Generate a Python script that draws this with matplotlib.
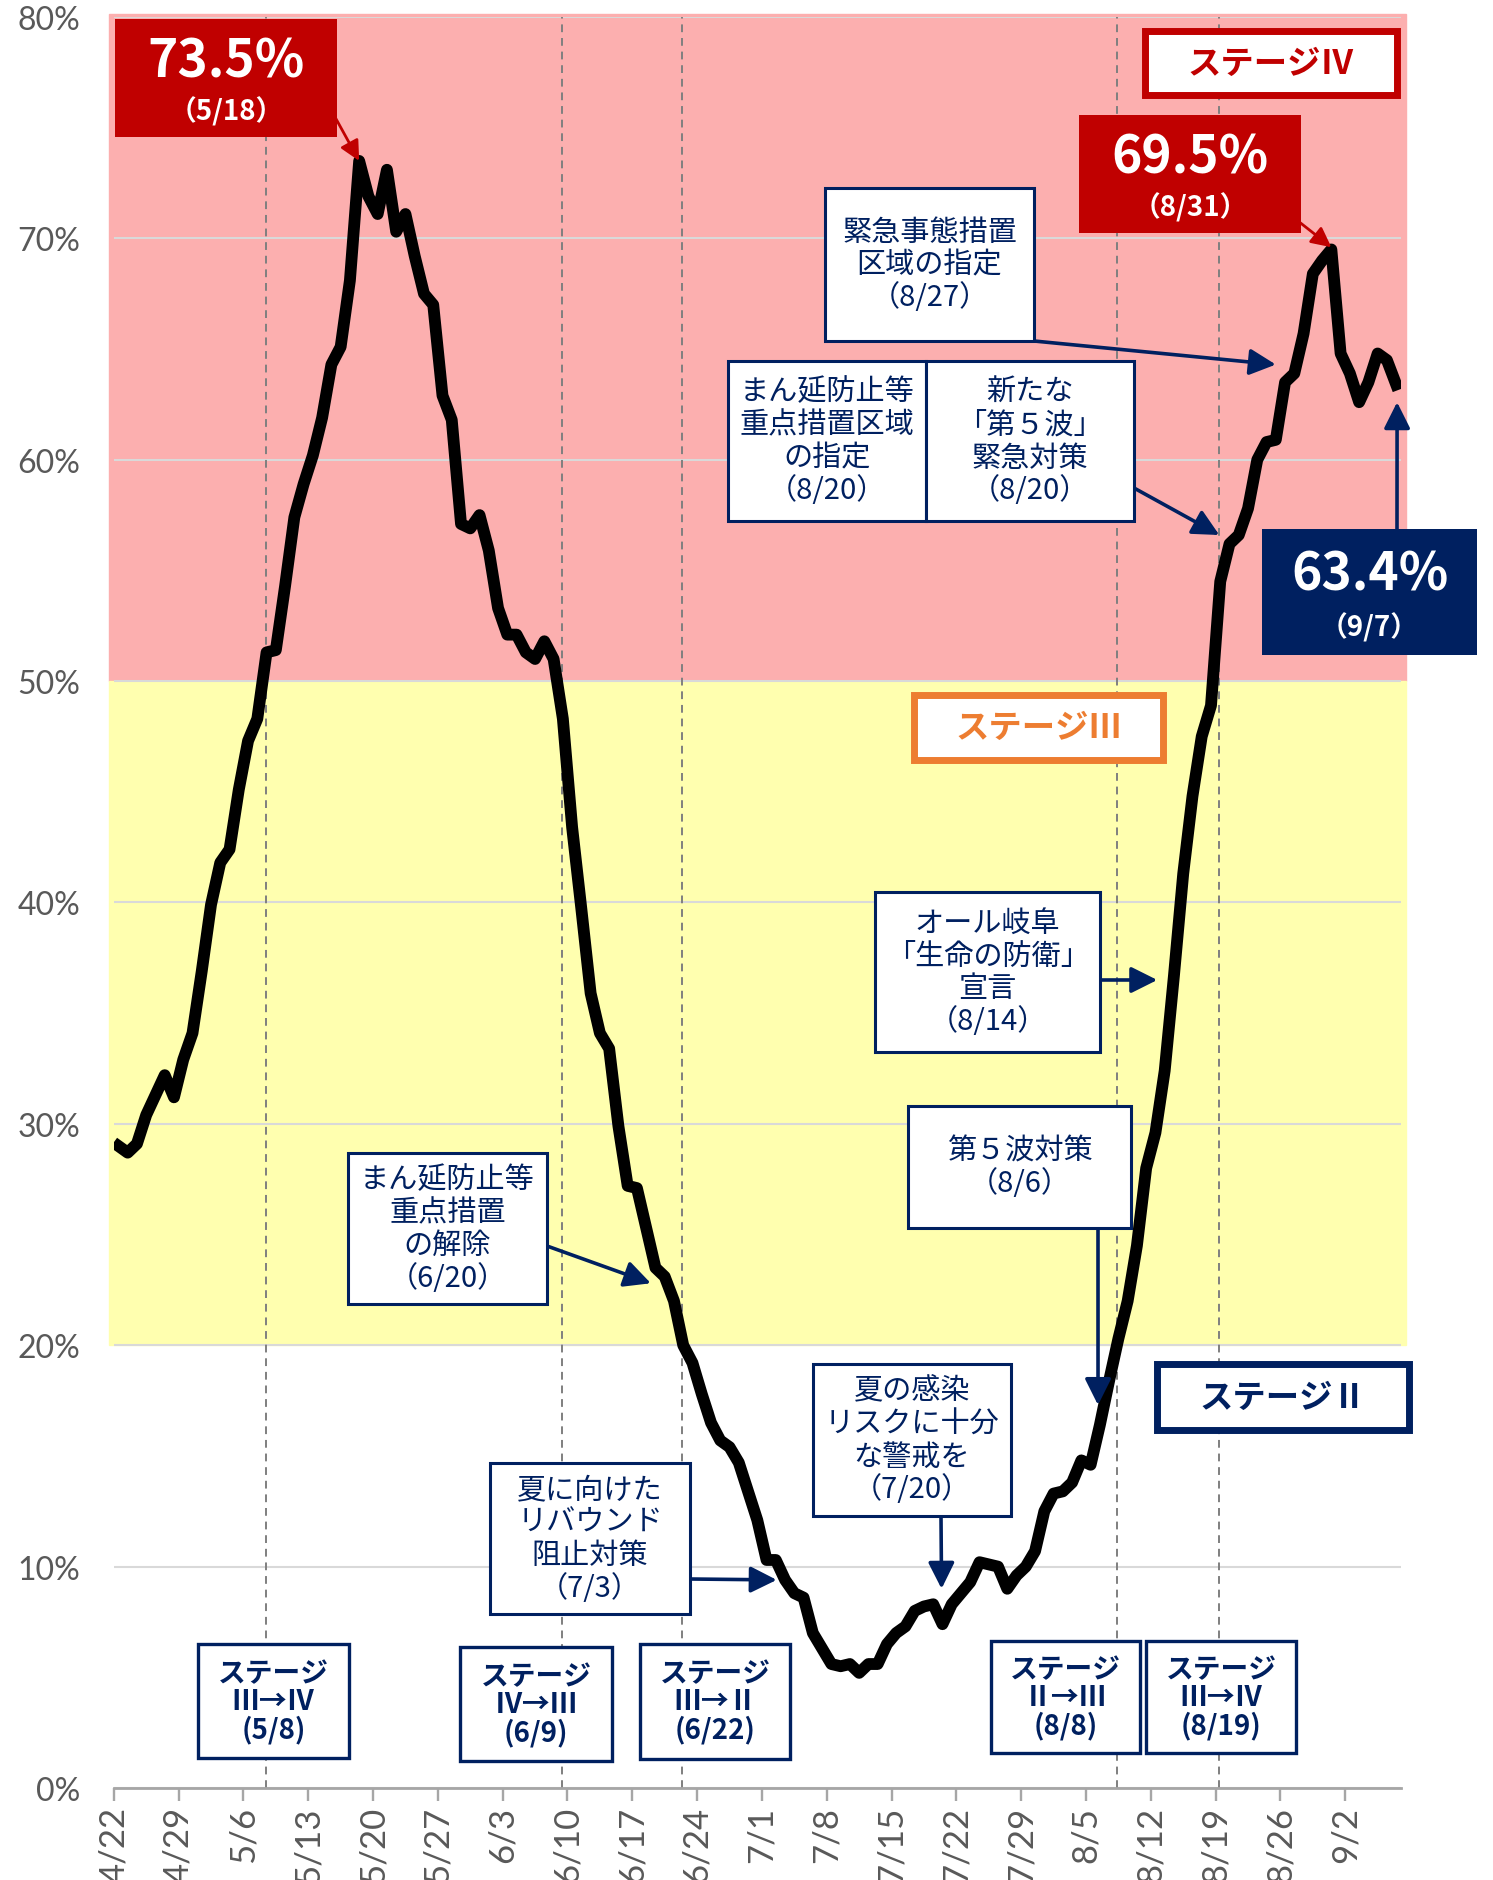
import matplotlib.pyplot as plt
import numpy as np
import pandas as pd
from matplotlib.patches import Rectangle

plt.rcParams['font.family'] = ['Noto Sans CJK JP', 'DejaVu Sans']

# daily bed occupancy rate (%), 4/22 - 9/7
dates = pd.date_range('2021-04-22', '2021-09-07', freq='D')
occupancy = [
    29.0, 28.7, 29.1, 30.4, 31.3, 32.2, 31.2, 32.9, 34.1, 36.9,
    39.9, 41.8, 42.4, 45.1, 47.3, 48.3, 51.3, 51.4, 54.3, 57.4,
    58.9, 60.2, 61.9, 64.3, 65.1, 68.1, 73.5, 71.9, 71.1, 73.1,
    70.3, 71.1, 69.2, 67.5, 67.0, 62.9, 61.8, 57.1, 56.9, 57.5,
    55.9, 53.3, 52.1, 52.1, 51.3, 51.0, 51.8, 51.0, 48.3, 43.4,
    39.7, 35.9, 34.1, 33.4, 29.9, 27.2, 27.1, 25.3, 23.5, 23.1,
    22.0, 20.0, 19.2, 17.8, 16.5, 15.7, 15.4, 14.7, 13.4, 12.1,
    10.3, 10.3, 9.4, 8.8, 8.6, 7.0, 6.3, 5.6, 5.5, 5.6,
    5.2, 5.6, 5.6, 6.5, 7.0, 7.3, 8.0, 8.2, 8.3, 7.4,
    8.3, 8.8, 9.3, 10.2, 10.1, 10.0, 9.0, 9.6, 10.0, 10.7,
    12.5, 13.3, 13.4, 13.8, 14.8, 14.6, 16.4, 18.4, 20.3, 22.0,
    24.5, 28.0, 29.6, 32.4, 36.7, 41.3, 44.8, 47.5, 48.9, 54.5,
    56.2, 56.6, 57.8, 60.0, 60.8, 60.9, 63.5, 63.9, 65.7, 68.4,
    69.0, 69.5, 64.8, 63.9, 62.6, 63.5, 64.8, 64.5, 63.4,
]
tick_labels = [f'{d.month}/{d.day}' for d in dates[::7]]
stage_change_dates = ['2021-05-08', '2021-06-09', '2021-06-22', '2021-08-08', '2021-08-19']
stage_change_text = ['ステージ\nⅢ→Ⅳ\n(5/8)', 'ステージ\nⅣ→Ⅲ\n(6/9)', 'ステージ\nⅢ→Ⅱ\n(6/22)',
                     'ステージ\nⅡ→Ⅲ\n(8/8)', 'ステージ\nⅢ→Ⅳ\n(8/19)']

NAVY = '#002060'
RED = '#C00000'
ORANGE = '#ED7D31'
W, H = 1493, 1881

fig = plt.figure(figsize=(W / 100, H / 100), dpi=100)
ax = fig.add_axes([113.8 / W, 1 - 1789 / H, 1287 / W, 1771 / H])

x = np.arange(len(dates)) + 0.5

# stage bands
ax.axhspan(50, 80.15, xmin=-0.004, xmax=1.004, color='#FCAFAF', zorder=0.2).set_clip_on(False)
ax.axhspan(20, 50, xmin=-0.004, xmax=1.004, color='#FFFFAF', zorder=0.2).set_clip_on(False)

for d in stage_change_dates:
    pos = (pd.Timestamp(d) - dates[0]).days + 0.4
    ax.axvline(pos, color='#7F7F7F', ls=(0, (4, 3)), lw=1.4, zorder=1)

ax.plot(x, occupancy, color='black', lw=8.5, solid_joinstyle='round', zorder=3)

ax.set_xlim(0, 139)
ax.set_ylim(0, 80)
ax.set_yticks(np.arange(0, 81, 10))
ax.set_yticklabels([f'{v}%' for v in range(0, 81, 10)], fontfamily='Lato', fontsize=23, color='#595959')
ax.set_xticks(np.arange(0, 139, 7))
ax.set_xticklabels(tick_labels, rotation=90, fontfamily='Lato', fontsize=25, color='#595959',
                   va='top', ha='center')
ax.tick_params(axis='y', length=0, pad=24)
ax.tick_params(axis='x', length=9, width=1.7, color='#A6A6A6', pad=4)
ax.set_axisbelow(True)
ax.grid(axis='y', color='#D9D9D9', lw=1.5, zorder=0.5)
for s in ['top', 'right', 'left']:
    ax.spines[s].set_visible(False)
ax.spines['bottom'].set_color('#A6A6A6')
ax.spines['bottom'].set_linewidth(2)
ax.spines['bottom'].set_zorder(2)


def fx(px):
    return px / W


def fy(py):
    return 1 - py / H


def box(x0, y0, x1, y1, edge, lw, face='white'):
    r = Rectangle((fx(x0), fy(y1)), fx(x1) - fx(x0), fy(y0) - fy(y1), transform=fig.transFigure,
                  facecolor=face, edgecolor=edge, lw=lw, zorder=5)
    fig.add_artist(r)


def note(x0, y0, x1, y1, text, size=21, weight='normal', color=NAVY, edge=NAVY, lw=2.2, ls=1.13):
    box(x0, y0, x1, y1, edge, lw)
    fig.text(fx((x0 + x1) / 2), fy((y0 + y1) / 2), text, ha='center', va='center', fontsize=size,
             fontweight=weight, color=color, linespacing=ls, zorder=6)


def arrow(start, tip, color=NAVY, lw=2.6, ms=40):
    ax.annotate('', xy=tip, xycoords='data', xytext=(fx(start[0]), fy(start[1])),
                textcoords='figure fraction', annotation_clip=False,
                arrowprops=dict(arrowstyle='-|>', color=color, lw=lw, mutation_scale=ms,
                                shrinkA=0, shrinkB=0), zorder=4)


def value_box(x0, y0, x1, y1, face, big, small):
    box(x0, y0, x1, y1, face, 0, face=face)
    cx = fx((x0 + x1) / 2)
    fig.text(cx, fy(y0 + (y1 - y0) * 0.36), big, ha='center', va='center', fontsize=37,
             fontweight='bold', color='white', zorder=6)
    fig.text(cx, fy(y0 + (y1 - y0) * 0.78), small, ha='center', va='center', fontsize=20,
             fontweight='bold', color='white', zorder=6)


# peak / latest values
arrow((335, 118), (26.5, 73.5), color=RED, lw=2, ms=30)
value_box(115, 20, 337, 138, RED, '73.5%', '（5/18）')
arrow((1298, 222), (131.5, 69.6), color=RED, lw=2, ms=30)
value_box(1079, 116, 1301, 234, RED, '69.5%', '（8/31）')
arrow((1397, 530), (138.6, 62.6))
value_box(1262, 530, 1477, 656, NAVY, '63.4%', '（9/7）')

# stage labels
note(1145, 32, 1397, 96, 'ステージⅣ', size=24, weight='bold', color=RED, edge=RED, lw=5)
note(914, 696, 1163, 761, 'ステージⅢ', size=24, weight='bold', color=ORANGE, edge=ORANGE, lw=5)
note(1157, 1365, 1409, 1431, 'ステージⅡ', size=24, weight='bold', color=NAVY, edge=NAVY, lw=5)

# policy notes
arrow((1034, 342), (125.5, 64.3))
note(825, 189, 1034, 342, '緊急事態措置\n区域の指定\n（8/27）')
note(728, 362, 926, 522, 'まん延防止等\n重点措置区域\nの指定\n（8/20）')
arrow((1134, 489), (119.4, 56.6))
note(926, 362, 1134, 522, '新たな\n「第５波」\n緊急対策\n（8/20）')
arrow((1100, 981), (112.7, 36.5))
note(875, 893, 1100, 1053, 'オール岐阜\n「生命の防衛」\n宣言\n（8/14）')
arrow((1098, 1229), (106.3, 17.3))
note(908, 1107, 1131, 1229, '第５波対策\n（8/6）')
arrow((547, 1247), (58.0, 22.8))
note(348, 1154, 547, 1305, 'まん延防止等\n重点措置\nの解除\n（6/20）')
arrow((690, 1580), (71.6, 9.4))
note(490, 1464, 690, 1615, '夏に向けた\nリバウンド\n阻止対策\n（7/3）')
arrow((941, 1517), (89.4, 9.0))
note(813, 1365, 1011, 1517, '夏の感染\nリスクに十分\nな警戒を\n（7/20）')

# stage change boxes
change_boxes = [(198, 1645, 349, 1759), (460, 1648, 612, 1762), (640, 1645, 790, 1760),
                (991, 1642, 1140, 1754), (1146, 1642, 1296, 1754)]
for (x0, y0, x1, y1), t in zip(change_boxes, stage_change_text):
    note(x0, y0, x1, y1, t, size=20, weight='bold', lw=2.4, ls=0.98)

fig.savefig('out.png', dpi=100)
